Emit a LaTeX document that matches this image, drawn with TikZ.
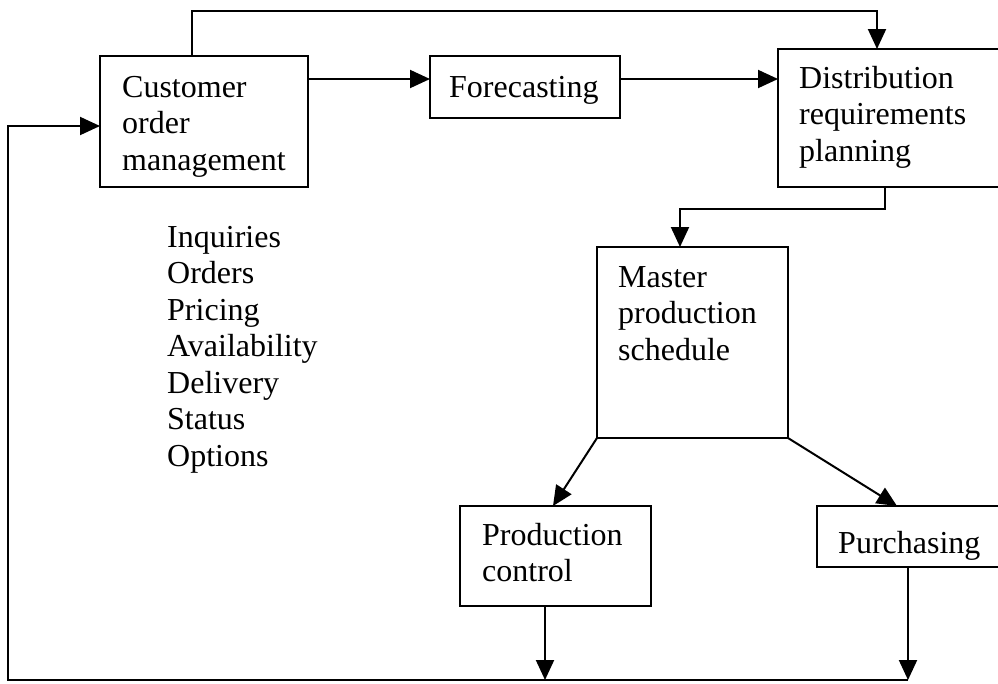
\documentclass[tikz,border=0pt]{standalone}
\usepackage{fontspec}
\setmainfont{Liberation Serif}
\usetikzlibrary{arrows.meta}
\newcommand{\stackl}[1]{\vtop{\halign{##\hfil\cr#1\crcr}}}
\begin{document}
\begin{tikzpicture}[x=1pt,y=-1pt,
  box/.style={draw, line width=2pt, inner sep=0pt, outer sep=0pt, anchor=north west},
  txt/.style={anchor=base west, inner sep=0pt, font=\fontsize{32}{36.5}\selectfont},
  arr/.style={line width=2pt, -{Triangle[length=20pt,width=18pt]}}]
\useasboundingbox (0,0) rectangle (998,683);
\clip (0,0) rectangle (998,683);
% boxes
\node[box, minimum width=208pt, minimum height=131pt] (com) at (100,56) {};
\node[box, minimum width=190pt, minimum height=62pt] (fc) at (430,56) {};
\node[box, minimum width=240pt, minimum height=138pt] (drp) at (778,49) {};
\node[box, minimum width=191pt, minimum height=191pt] (mps) at (597,247) {};
\node[box, minimum width=191pt, minimum height=100pt] (pc) at (460,506) {};
\node[box, minimum width=240pt, minimum height=61pt] (pur) at (817,506) {};
% texts
\node[txt] (comt) at (122,97) {\stackl{Customer\cr order\cr management}};
\node[txt] (fct) at (449,97) {Forecasting};
\node[txt] (drpt) at (799,88) {\stackl{Distribution\cr requirements\cr planning}};
\node[txt] (mpst) at (618,287) {\stackl{Master\cr production\cr schedule}};
\node[txt] (pct) at (482,545) {\stackl{Production\cr control}};
\node[txt] (purt) at (838,553) {Purchasing};
\node[txt] (list) at (167,247) {\stackl{Inquiries\cr Orders\cr Pricing\cr Availability\cr Delivery\cr Status\cr Options}};
% feedback coordinates
\coordinate (bl) at (8,680);
\coordinate (br) at (908,680);
% connectors
\draw[arr] ([xshift=92pt]com.north west) -- ++(0,-45) -| ([xshift=99pt]drp.north west);
\draw[arr] ([yshift=-23pt]com.north east) -- ([yshift=-23pt]fc.north west);
\draw[arr] ([yshift=-23pt]fc.north east) -- ([yshift=-30pt]drp.north west);
\draw[arr] ([xshift=107pt]drp.south west) -- ++(0,22) -| ([xshift=83pt]mps.north west);
\draw[arr] (mps.south west) -- ([xshift=93pt]pc.north west);
\draw[arr] (mps.south east) -- ([xshift=80pt]pur.north west);
\draw[arr] ([xshift=85pt]pc.south west) -- ++(0,74);
\draw[arr] ([xshift=91pt]pur.south west) -- (br);
\draw[arr] (br) -- (bl) |- ([yshift=-70pt]com.north west);
\end{tikzpicture}
\end{document}
